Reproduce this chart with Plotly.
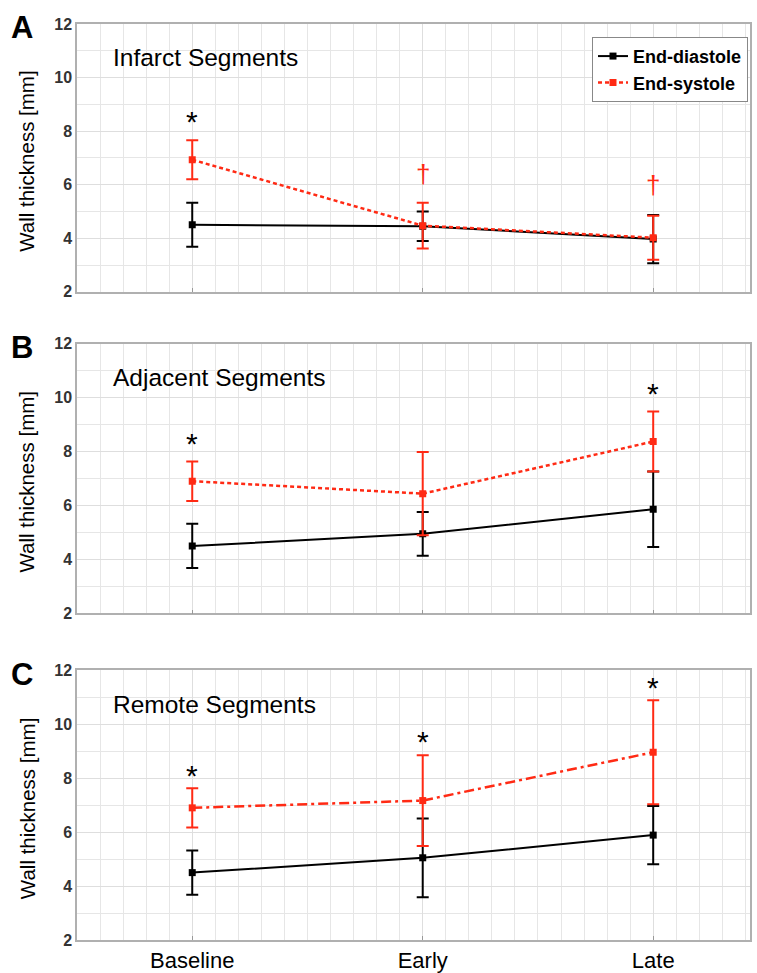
import plotly.graph_objects as go
from plotly.subplots import make_subplots

categories = ["Baseline", "Early", "Late"]
xpos = [1, 2, 3]
panels = ["A", "B", "C"]
titles = ["Infarct Segments", "Adjacent Segments", "Remote Segments"]

ed_A = [4.50, 4.45, 3.97]
ed_A_sd = [0.82, 0.55, 0.90]
es_A = [6.93, 4.47, 4.02]
es_A_sd = [0.73, 0.85, 0.82]

ed_B = [4.50, 4.95, 5.86]
ed_B_sd = [0.82, 0.81, 1.40]
es_B = [6.90, 6.44, 8.37]
es_B_sd = [0.73, 1.54, 1.11]

ed_C = [4.50, 5.05, 5.89]
ed_C_sd = [0.82, 1.46, 1.08]
es_C = [6.90, 7.17, 8.96]
es_C_sd = [0.73, 1.68, 1.93]

# significance marks: (x, y)
star_A = [(1, 8.35)]
dagger_A = [(2, 6.4), (3, 6.0)]
star_B = [(1, 8.3), (3, 10.15)]
star_C = [(1, 8.1), (2, 9.35), (3, 11.35)]

ED = [ed_A, ed_B, ed_C]
ED_SD = [ed_A_sd, ed_B_sd, ed_C_sd]
ES = [es_A, es_B, es_C]
ES_SD = [es_A_sd, es_B_sd, es_C_sd]
STARS = [star_A, star_B, star_C]
DAGGERS = [dagger_A, [], []]
es_dash = ["4px,3px", "4px,3px", "10px,4px,3px,4px"]

RED = "#ff2a14"
FONT = "Liberation Sans, Arial, Helvetica, sans-serif"
W, H = 757, 973


def yf(px):
    # screen pixel (from top) -> paper fraction, compensating observed page offset
    return 1 - (px - 8) / 956.0


fig = make_subplots(rows=3, cols=1)

for i in range(3):
    r = i + 1
    fig.add_trace(go.Scatter(
        x=xpos, y=ED[i], mode="lines+markers", name="End-diastole",
        line=dict(color="black", width=2),
        marker=dict(symbol="square", size=7, color="black"),
        error_y=dict(type="data", array=ED_SD[i], color="black", thickness=2, width=6),
        showlegend=(i == 0), legendrank=1,
    ), row=r, col=1)
    fig.add_trace(go.Scatter(
        x=xpos, y=ES[i], mode="lines+markers", name="End-systole",
        line=dict(color=RED, width=2.5, dash=es_dash[i]),
        marker=dict(symbol="square", size=7, color=RED),
        error_y=dict(type="data", array=ES_SD[i], color=RED, thickness=2, width=6),
        showlegend=(i == 0), legendrank=2,
    ), row=r, col=1)

panel_px = [(24, 293), (345, 616), (673, 944)]
annotations = []
for i in range(3):
    xa = "xaxis" if i == 0 else f"xaxis{i+1}"
    ya = "yaxis" if i == 0 else f"yaxis{i+1}"
    xref = "x" if i == 0 else f"x{i+1}"
    yref = "y" if i == 0 else f"y{i+1}"
    top_px, bot_px = panel_px[i]
    fig.layout[xa].update(
        domain=[77 / W, 750 / W], range=[0.5, 3.42],
        tickmode="array", tickvals=xpos, ticktext=categories,
        showticklabels=(i == 2), tickfont=dict(family=FONT, size=22, color="black"),
        ticks="inside", ticklen=4, tickcolor="#999",
        showgrid=True, gridcolor="#dedede", gridwidth=1,
        minor=dict(tickmode="linear", tick0=0, dtick=0.1, showgrid=True,
                   gridcolor="#e6e6e6", gridwidth=1, ticks=""),
        showline=True, linecolor="#b0b0b0", linewidth=1.5, mirror=True,
        zeroline=False,
    )
    fig.layout[ya].update(
        domain=[yf(bot_px), yf(top_px)], range=[2, 12],
        tickmode="linear", tick0=2, dtick=2,
        tickfont=dict(family=FONT, size=16, color="#333", weight="bold"),
        ticks="", showgrid=True, gridcolor="#dedede", gridwidth=1,
        minor=dict(tickmode="linear", tick0=0, dtick=1, showgrid=True,
                   gridcolor="#e6e6e6", gridwidth=1, ticks=""),
        showline=True, linecolor="#b0b0b0", linewidth=1.5, mirror=True,
        zeroline=False,
    )
    annotations.append(dict(text=f"<b>{panels[i]}</b>", x=9 / W, y=yf(top_px + 4),
                            xref="paper", yref="paper", xanchor="left", yanchor="middle",
                            showarrow=False, font=dict(family=FONT, size=31, color="black")))
    annotations.append(dict(text=titles[i], x=111 / W, y=yf(top_px + 34),
                            xref="paper", yref="paper", xanchor="left", yanchor="middle",
                            showarrow=False, font=dict(family=FONT, size=24.5, color="black")))
    annotations.append(dict(text="Wall thickness [mm]", x=27 / W,
                            y=yf((top_px + bot_px) / 2 + 3),
                            xref="paper", yref="paper", xanchor="center", yanchor="middle",
                            textangle=-90, showarrow=False,
                            font=dict(family=FONT, size=20.5, color="black")))
    for (sx, sy) in STARS[i]:
        annotations.append(dict(text="*", x=sx, y=sy, xref=xref, yref=yref,
                                xanchor="center", yanchor="middle", showarrow=False,
                                font=dict(family=FONT, size=30, color="black")))
    for (sx, sy) in DAGGERS[i]:
        annotations.append(dict(text="†", x=sx, y=sy, xref=xref, yref=yref,
                                xanchor="center", yanchor="middle", showarrow=False,
                                font=dict(family=FONT, size=26, color=RED)))

fig.update_layout(
    width=W, height=H, margin=dict(l=0, r=0, t=0, b=0),
    paper_bgcolor="white", plot_bgcolor="white",
    annotations=annotations,
    legend=dict(x=748 / W, y=yf(37), xanchor="right", yanchor="top",
                bgcolor="white", bordercolor="#888", borderwidth=1,
                font=dict(family=FONT, size=18, color="black", weight="bold"),
                itemwidth=30, tracegroupgap=0),
)

fig.write_html("out.html")
